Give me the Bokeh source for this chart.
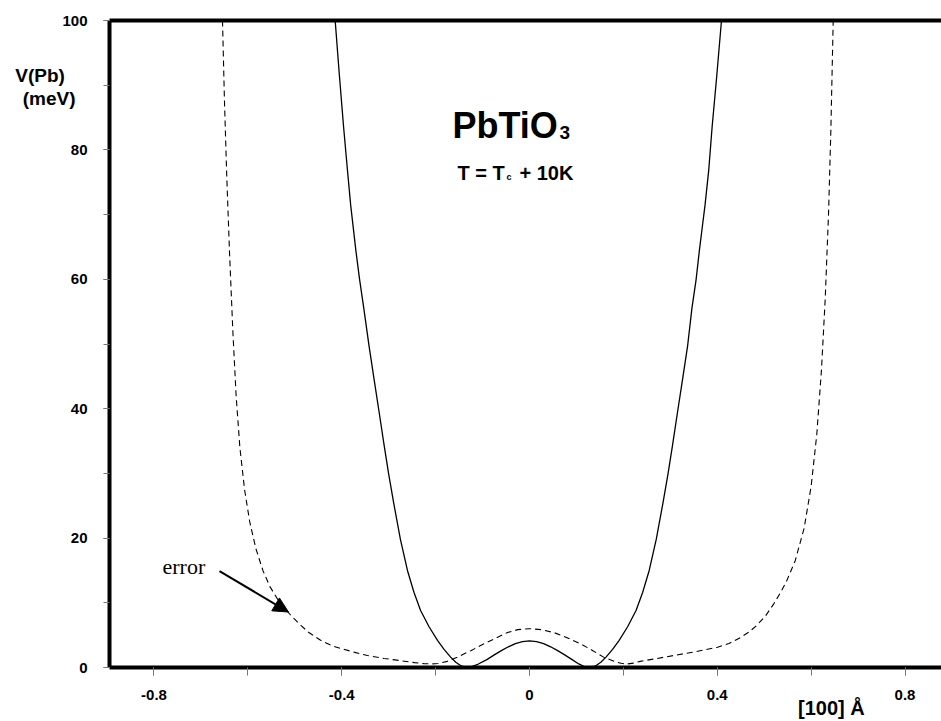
from bokeh.plotting import figure
from bokeh.models import (Range1d, LinearAxis, FixedTicker, Label, Arrow, NormalHead,
                          CustomJSTickFormatter)
from bokeh.embed import file_html
from bokeh.resources import INLINE

# ---- data ----
solid_x = [-0.414, -0.405, -0.396, -0.388, -0.381, -0.370, -0.362, -0.353, -0.342, -0.331,
           -0.320, -0.310, -0.300, -0.289, -0.275, -0.260, -0.246,
           -0.232, -0.214, -0.196, -0.182, -0.168, -0.157, -0.147, -0.135, -0.125, -0.110,
           -0.090, -0.075, -0.060, -0.045, -0.030, -0.015, 0.0, 0.015, 0.030, 0.045,
           0.060, 0.075, 0.090, 0.105, 0.118, 0.130, 0.142, 0.152, 0.163, 0.177, 0.191,
           0.209, 0.227, 0.241, 0.255, 0.270, 0.284, 0.295, 0.305, 0.315, 0.326, 0.337,
           0.346, 0.355, 0.362, 0.368, 0.374, 0.382, 0.389, 0.399, 0.409]
solid_v = [100, 91.5, 83.5, 77.0, 71.5, 64.5, 60.0, 55.5, 49.8, 44.5,
           39.3, 34.5, 29.9, 25.3, 19.8, 15.0, 11.6,
           8.8, 6.3, 4.2, 2.8, 1.6, 0.8, 0.3, 0.0, 0.1, 0.5,
           1.25, 1.95, 2.6, 3.2, 3.7, 4.0, 4.1, 4.0, 3.7, 3.2,
           2.6, 1.95, 1.25, 0.55, 0.12, 0.0, 0.3, 0.8, 1.6, 2.8, 4.2,
           6.3, 8.8, 11.6, 15.0, 19.8, 25.3, 29.9, 34.5, 39.3, 44.5, 49.8,
           55.5, 60.0, 64.5, 68.0, 71.5, 77.0, 83.5, 91.5, 100]

error_x = [-0.654, -0.650, -0.645, -0.639, -0.632, -0.625, -0.617, -0.607, -0.596,
           -0.583, -0.568, -0.553, -0.537, -0.520, -0.505, -0.487, -0.470, -0.445,
           -0.420, -0.400, -0.370, -0.345, -0.310, -0.274, -0.245, -0.225, -0.210,
           -0.195, -0.175, -0.154, -0.125, -0.097, -0.070, -0.047, -0.025, 0.0,
           0.025, 0.052, 0.080, 0.109, 0.135, 0.158, 0.180, 0.195, 0.208, 0.222,
           0.236, 0.264, 0.307, 0.350, 0.399, 0.425, 0.449, 0.468, 0.484, 0.503,
           0.520, 0.535, 0.548, 0.566, 0.585, 0.600, 0.612, 0.622, 0.630, 0.637,
           0.642, 0.647]
error_v = [100, 88, 76, 64, 52, 42, 34, 27.5, 22.5,
           18.4, 15.0, 12.5, 10.6, 9.0, 7.8, 6.5, 5.4, 4.2,
           3.35, 2.9, 2.3, 1.85, 1.4, 1.05, 0.75, 0.6, 0.55,
           0.62, 0.95, 1.6, 2.6, 3.66, 4.6, 5.4, 5.85, 6.0,
           5.85, 5.4, 4.6, 3.66, 2.6, 1.6, 0.95, 0.65, 0.55, 0.68,
           0.95, 1.3, 1.85, 2.4, 3.1, 3.7, 4.6, 5.5, 6.5, 8.0,
           9.8, 11.6, 13.4, 16.5, 21.5, 28, 36, 46, 57, 70,
           83, 100]

x_major_ticks = [-0.8, -0.4, 0, 0.4, 0.8]
x_minor_ticks = [-0.8, -0.6, -0.4, -0.2, 0, 0.2, 0.4, 0.6, 0.8]
y_major_ticks = [0, 20, 40, 60, 80, 100]
y_minor_ticks = [0, 10, 20, 30, 40, 50, 60, 70, 80, 90, 100]

y_title_lines = ["V(Pb)\u00a0\u00a0", "(meV)"]
y_title_pos = [91.5, 88.0]
x_title = "[100] Å"
x_title_pos = 0.643

FONT = "Liberation Sans"

# pixel -> data helpers for annotation placement
def dx(px):
    return (px - 529.0) / 469.4

def dy(py):
    return (667.5 - py) / 6.475

p = figure(width=941, height=721, output_backend="svg", toolbar_location=None,
           x_range=Range1d(dx(109), dx(941)), y_range=Range1d(0, 100),
           min_border_left=109, min_border_right=0, min_border_top=20,
           min_border_bottom=54)
p.grid.visible = False
p.outline_line_color = None
p.background_fill_color = "white"
p.border_fill_color = "white"

# axes
xa = p.xaxis[0]
xa.ticker = FixedTicker(ticks=x_major_ticks, minor_ticks=x_minor_ticks)
xa.formatter = CustomJSTickFormatter(code="return tick.toString()")
ya = p.yaxis[0]
ya.ticker = FixedTicker(ticks=y_major_ticks, minor_ticks=y_minor_ticks)
for ax, tout, stand in ((xa, 8, 14), (ya, 6, 16)):
    ax.axis_line_width = 4
    ax.axis_line_color = "black"
    ax.major_tick_out = tout
    ax.major_tick_in = 0
    ax.minor_tick_out = tout
    ax.minor_tick_in = 0
    ax.major_tick_line_color = "#777777"
    ax.minor_tick_line_color = "#777777"
    ax.major_tick_line_width = 1
    ax.minor_tick_line_width = 1
    ax.major_label_text_font = FONT
    ax.major_label_text_font_style = "bold"
    ax.major_label_text_font_size = "15px"
    ax.major_label_text_color = "black"
    ax.major_label_standoff = stand

top = LinearAxis(ticker=FixedTicker(ticks=[]), axis_line_width=4, axis_line_color="black",
                 major_tick_out=0, major_tick_in=0, minor_tick_out=0, minor_tick_in=0)
p.add_layout(top, "above")

# axis titles drawn as tick labels of extra, line-less axes (kept outside the frame)
def title_axis(ticks, labels, size, standoff):
    ax = LinearAxis(ticker=FixedTicker(ticks=ticks),
                    major_label_overrides=dict(zip(ticks, labels)),
                    axis_line_color=None, major_tick_line_color=None,
                    minor_tick_line_color=None, major_tick_out=0, major_tick_in=0,
                    minor_tick_out=0, minor_tick_in=0,
                    major_label_text_font=FONT, major_label_text_font_style="bold",
                    major_label_text_font_size=size, major_label_text_color="black",
                    major_label_standoff=standoff)
    return ax

p.add_layout(title_axis(y_title_pos, y_title_lines, "19px", -16), "left")
p.add_layout(title_axis([x_title_pos], [x_title], "20px", -6), "below")

# curves
p.line(error_x, error_v, line_color="black", line_width=1.1, line_dash="6 4")
p.line(solid_x, solid_v, line_color="black", line_width=1.3)

# texts inside the frame
def lab(text, px, py, size, style="bold", font=FONT):
    p.add_layout(Label(x=dx(px), y=dy(py), text=text, text_font=font,
                       text_font_style=style, text_font_size=size,
                       text_align="left", text_baseline="alphabetic",
                       text_color="black"))

lab("PbTiO", 452, 125, "36px")
lab("3", 559, 132, "19px")
lab("T = T", 457, 173, "20px")
lab("c", 506, 177, "9px")
lab("+ 10K", 519, 173, "20px")
lab("error", 162, 566, "22px", style="normal", font="Liberation Serif")

p.add_layout(Arrow(end=NormalHead(size=15, fill_color="black", line_color="black"),
                   x_start=dx(219), y_start=dy(571), x_end=dx(288), y_end=dy(612),
                   line_width=2, line_color="black"))

open("out.html", "w").write(file_html(p, INLINE))
